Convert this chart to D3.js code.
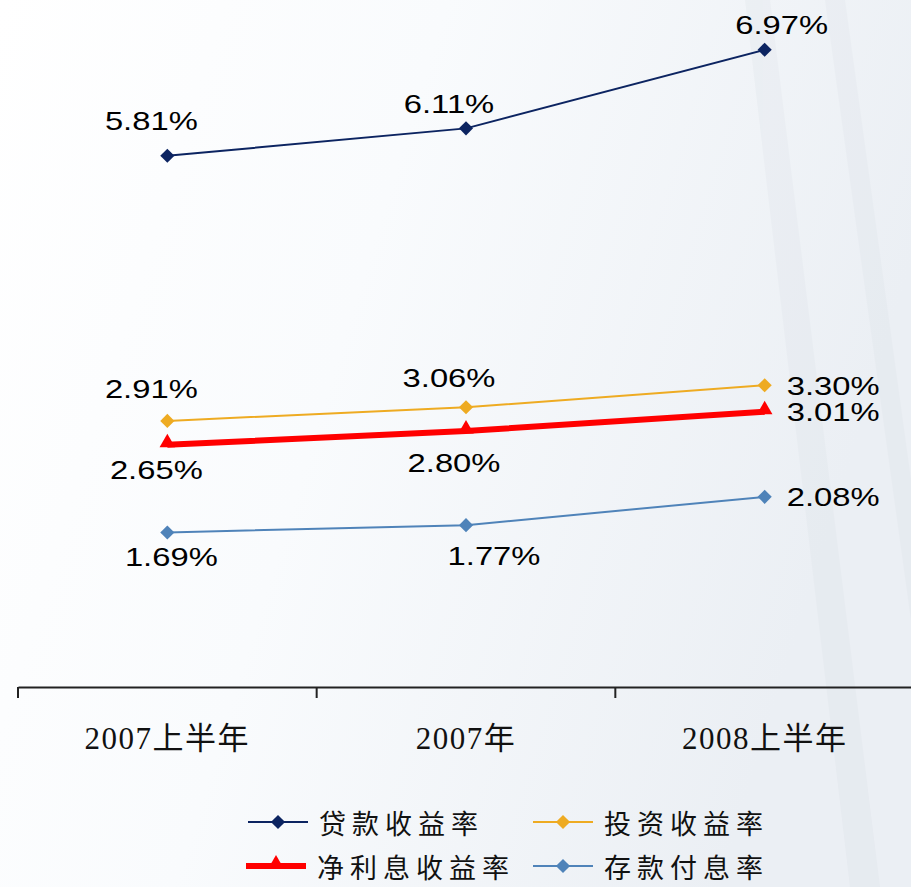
<!DOCTYPE html>
<html>
<head>
<meta charset="utf-8">
<script src="https://cdn.jsdelivr.net/npm/d3@7"></script>
<style>
  body { margin: 0; background: #fff; }
  svg { display: block; }
</style>
</head>
<body>
<div id="chart"></div>
<script>
// chart values
const categories = ['2007上半年', '2007年', '2008上半年'];
const seriesNames = ['贷款收益率', '投资收益率', '净利息收益率', '存款付息率'];
const loanYield = [5.81, 6.11, 6.97];
const investYield = [2.91, 3.06, 3.30];
const netInterest = [2.65, 2.80, 3.01];
const depositCost = [1.69, 1.77, 2.08];

const width = 911,
    height = 887;

// label placement per series, one entry per point: [dx, dy, anchor]
const labelPlace = [
    [[-16, -35, 'middle'], [-17, -25, 'middle'], [17, -25, 'middle']],
    [[-16, -32, 'middle'], [-17, -29, 'middle'], [22, 0, 'start']],
    [[-11, 25, 'middle'], [-12, 32, 'middle'], [22, 0, 'start']],
    [[4, 24, 'middle'], [28, 31, 'middle'], [22, 0, 'start']]
];

const styles = [
    { color: '#0c2461', width: 2, marker: 'diamond' },
    { color: '#eeab22', width: 2, marker: 'diamond' },
    { color: '#ff0000', width: 6, marker: 'triangle' },
    { color: '#4f83b9', width: 2, marker: 'diamond' }
];

const series = [loanYield, investYield, netInterest, depositCost];

const svg = d3.select('#chart')
    .append('svg')
    .attr('width', width)
    .attr('height', height);

// background wash
const defs = svg.append('defs');
const grad = defs.append('linearGradient')
    .attr('id', 'bg')
    .attr('x1', '0').attr('y1', '0').attr('x2', '1').attr('y2', '0.3');
grad.append('stop').attr('offset', '0%').attr('stop-color', '#ffffff');
grad.append('stop').attr('offset', '45%').attr('stop-color', '#f9fbfd');
grad.append('stop').attr('offset', '100%').attr('stop-color', '#ebeff4');

svg.append('rect')
    .attr('width', width)
    .attr('height', height)
    .attr('fill', 'url(#bg)');

// faint building streaks on the right
const streaks = svg.append('g').attr('opacity', 0.12);
[[745, 0, 770, 0, 880, 887, 850, 887], [825, 0, 845, 0, 911, 480, 911, 620]].forEach(p => {
    streaks.append('polygon')
        .attr('points', [[p[0], p[1]], [p[2], p[3]], [p[4], p[5]], [p[6], p[7]]].map(d => d.join(',')).join(' '))
        .attr('fill', '#c9d0d8');
});

// Scales
const x = d3.scaleBand()
    .domain(categories)
    .range([18, 914]);

const y = d3.scaleLinear()
    .domain([0, 7])
    .range([687, 47]);

// Axis
const xAxis = d3.axisBottom(x)
    .tickSize(0)
    .tickPadding(40);

const axisG = svg.append('g')
    .attr('transform', 'translate(0, 687)')
    .call(xAxis);

axisG.select('.domain')
    .attr('stroke', '#222')
    .attr('stroke-width', 2);

axisG.selectAll('.tick text')
    .attr('fill', '#111')
    .style('font-family', '"Liberation Serif", "Noto Sans CJK SC", serif')
    .style('font-size', '31px')
    .style('letter-spacing', '1.5px');

axisG.selectAll('.edge')
    .data(categories)
    .enter()
    .append('line')
    .attr('x1', d => x(d))
    .attr('x2', d => x(d))
    .attr('y1', 0)
    .attr('y2', 11)
    .attr('stroke', '#222')
    .attr('stroke-width', 2);

// markers
function drawMarker(g, type, color) {
    if (type === 'diamond') {
        g.append('path')
            .attr('d', d3.symbol(d3.symbolSquare, 100)())
            .attr('transform', 'rotate(45)')
            .attr('fill', color);
    } else {
        g.append('path')
            .attr('d', d3.symbol(d3.symbolTriangle, 105)())
            .attr('transform', 'translate(0,-2)')
            .attr('fill', color);
    }
}

const line = d3.line()
    .x((d, i) => x(categories[i]) + x.bandwidth() / 2)
    .y(d => y(d));

series.forEach((vals, s) => {
    const st = styles[s];
    svg.append('path')
        .datum(vals)
        .attr('fill', 'none')
        .attr('stroke', st.color)
        .attr('stroke-width', st.width)
        .attr('d', line);

    vals.forEach((v, i) => {
        const g = svg.append('g')
            .attr('transform', 'translate(' + (x(categories[i]) + x.bandwidth() / 2) + ',' + y(v) + ')');
        drawMarker(g, st.marker, st.color);
    });

    vals.forEach((v, i) => {
        const p = labelPlace[s][i];
        svg.append('text')
            .attr('transform', 'translate(' + (x(categories[i]) + x.bandwidth() / 2 + p[0]) + ',' + (y(v) + p[1]) + ') scale(1.26, 1)')
            .attr('text-anchor', p[2])
            .attr('dominant-baseline', 'central')
            .attr('fill', '#000')
            .style('font-family', '"Liberation Sans", Arial, sans-serif')
            .style('font-size', '26px')
            .text(d3.format('.2f')(v) + '%');
    });
});

// Legend
const legendPos = [[248, 822], [533, 822], [246, 866], [533, 866]];
seriesNames.forEach((name, s) => {
    const st = styles[s];
    const g = svg.append('g')
        .attr('transform', 'translate(' + legendPos[s][0] + ',' + legendPos[s][1] + ')');
    g.append('line')
        .attr('x1', 0).attr('x2', 60)
        .attr('y1', 0).attr('y2', 0)
        .attr('stroke', st.color)
        .attr('stroke-width', st.width);
    const m = g.append('g').attr('transform', 'translate(30,0)');
    drawMarker(m, st.marker, st.color);
    g.append('text')
        .attr('x', 71)
        .attr('y', 0)
        .attr('dominant-baseline', 'central')
        .attr('fill', '#111')
        .style('font-family', '"Noto Sans CJK SC", sans-serif')
        .style('font-size', '27px')
        .style('letter-spacing', '6px')
        .text(name);
});
</script>
</body>
</html>
